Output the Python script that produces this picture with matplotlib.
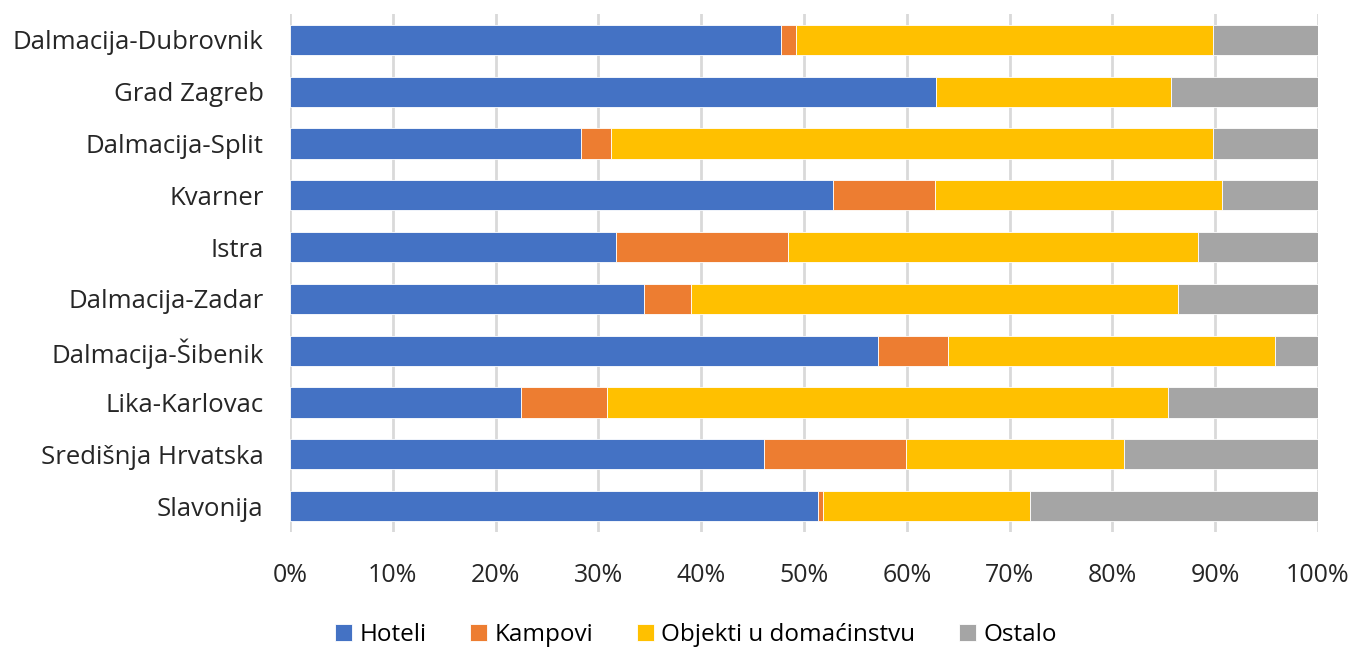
import matplotlib
matplotlib.use("Agg")
import matplotlib.pyplot as plt
import numpy as np

regions = ["Dalmacija-Dubrovnik", "Grad Zagreb", "Dalmacija-Split", "Kvarner", "Istra",
           "Dalmacija-Zadar", "Dalmacija-Šibenik", "Lika-Karlovac", "Središnja Hrvatska", "Slavonija"]
hoteli = [47.8, 62.8, 28.3, 52.8, 31.7, 34.4, 57.2, 22.5, 46.1, 51.4]
kampovi = [1.4, 0.0, 2.9, 9.9, 16.7, 4.6, 6.8, 8.3, 13.8, 0.4]
objekti = [40.6, 22.9, 58.6, 28.0, 39.9, 47.4, 31.8, 54.6, 21.2, 20.2]
ostalo = [10.2, 14.3, 10.2, 9.3, 11.7, 13.6, 4.2, 14.6, 18.9, 28.0]

series = [
    ("Hoteli", hoteli, "#4472C4"),
    ("Kampovi", kampovi, "#ED7D31"),
    ("Objekti u domaćinstvu", objekti, "#FFC000"),
    ("Ostalo", ostalo, "#A5A5A5"),
]

plt.rcParams["font.family"] = ["Open Sans", "DejaVu Sans"]

fig = plt.figure(figsize=(13.56, 6.48), dpi=100)
ax = fig.add_axes([290 / 1356, 1 - 532 / 648, 1028 / 1356, 518 / 648])

y = np.arange(len(regions))
left = np.zeros(len(regions))
for name, vals, color in series:
    vals = np.array(vals)
    ax.barh(y, vals, left=left, height=0.58, color=color, label=name,
            edgecolor="white", linewidth=0.6, zorder=3)
    left += vals

ax.set_xlim(0, 100)
ax.set_ylim(len(regions) - 0.5, -0.5)
ax.set_yticks(y)
ax.set_yticklabels(regions, fontsize=18.5, color="#262626")
ax.set_xticks(np.arange(0, 101, 10))
ax.set_xticklabels([f"{v}%" for v in range(0, 101, 10)], fontsize=18, color="#262626")
ax.tick_params(length=0)
ax.tick_params(axis="y", pad=19)
ax.tick_params(axis="x", pad=22)
ax.grid(True, axis="x", color="#D9D9D9", linewidth=2, zorder=0)
for s in ax.spines.values():
    s.set_visible(False)

ax.legend(loc="center", bbox_to_anchor=(0.395, -0.198), ncol=4, frameon=False,
          fontsize=17.5, handlelength=0.7, handleheight=0.7, handletextpad=0.3,
          columnspacing=1.8)

fig.savefig("out.png", dpi=100)
